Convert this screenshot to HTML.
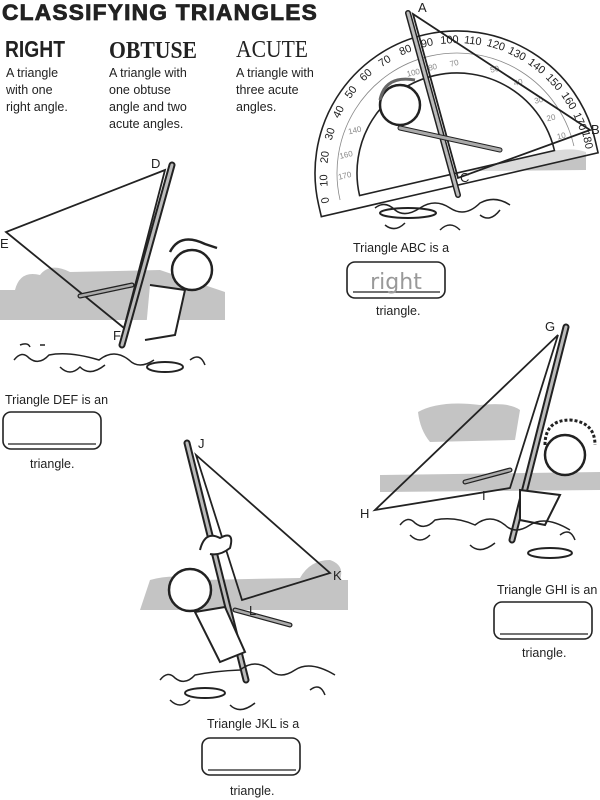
<!DOCTYPE html>
<html><head><meta charset="utf-8"><style>
html,body{margin:0;padding:0;background:#fff;}
svg{display:block}
</style></head><body>
<svg width="600" height="800" viewBox="0 0 600 800" xmlns="http://www.w3.org/2000/svg" font-family="Liberation Sans, sans-serif">
<text x="2" y="20" font-size="22" font-weight="900" letter-spacing="1.2" fill="#222" stroke="#222" stroke-width="0.8" textLength="316" lengthAdjust="spacingAndGlyphs">CLASSIFYING TRIANGLES</text>
<text x="5" y="57" font-size="23" font-weight="bold" fill="#222" textLength="60" lengthAdjust="spacingAndGlyphs">RIGHT</text>
<text x="109" y="58" font-size="24" font-weight="bold" font-family="Liberation Serif, serif" fill="#222" textLength="88" lengthAdjust="spacingAndGlyphs">OBTUSE</text>
<text x="236" y="57" font-size="24" font-family="Liberation Serif, serif" fill="#222" textLength="72" lengthAdjust="spacingAndGlyphs">ACUTE</text>
<g font-size="12.5" fill="#222">
<text x="6" y="77">A triangle</text><text x="6" y="94">with one</text><text x="6" y="111">right angle.</text>
<text x="109" y="77">A triangle with</text><text x="109" y="94">one obtuse</text><text x="109" y="111">angle and two</text><text x="109" y="128">acute angles.</text>
<text x="236" y="77">A triangle with</text><text x="236" y="94">three acute</text><text x="236" y="111">angles.</text>
</g>

<g fill="#c4c4c4">
<path d="M365 160 Q380 150 400 158 L560 150 Q575 148 586 152 L586 170 L362 172 Z"/>
<path d="M0 290 L15 290 Q20 270 40 275 Q50 262 70 272 L160 270 L225 292 L225 320 L0 320 Z"/>
<path d="M418 412 Q440 400 480 405 Q510 402 520 410 L515 440 L430 442 Q420 430 418 412 Z"/>
<path d="M380 475 L600 472 L600 490 L380 492 Z"/>
<path d="M150 580 Q175 573 200 580 L300 578 Q310 560 330 560 Q345 565 340 580 L348 580 L348 610 L140 610 Z"/>
</g>

<g transform="translate(457,173) rotate(-13)" fill="none" stroke="#222" stroke-width="1.6">
<path d="M-142 0 A142 142 0 0 1 142 0 L142 12 L-142 12 Z" fill="#fff" fill-opacity="0.4"/>
<path d="M-100 0 A100 100 0 0 1 100 0 Z" fill="#fff"/>
<path d="M-120 0 A120 120 0 0 1 120 0" stroke="#888" stroke-width="0.8"/>
<g font-size="11" fill="#222" stroke="none" text-anchor="middle">
<text x="-131" y="-3" transform="rotate(-90 -131 -3)">0</text>
<text x="-128" y="-22" transform="rotate(-80 -128 -22)">10</text>
<text x="-122" y="-44" transform="rotate(-70 -122 -44)">20</text>
<text x="-112" y="-65" transform="rotate(-60 -112 -65)">30</text>
<text x="-99" y="-84" transform="rotate(-50 -99 -84)">40</text>
<text x="-83" y="-100" transform="rotate(-40 -83 -100)">50</text>
<text x="-65" y="-113" transform="rotate(-30 -65 -113)">60</text>
<text x="-44" y="-122" transform="rotate(-20 -44 -122)">70</text>
<text x="-22" y="-128" transform="rotate(-10 -22 -128)">80</text>
<text x="0" y="-130">90</text>
<text x="22" y="-128" transform="rotate(10 22 -128)">100</text>
<text x="44" y="-122" transform="rotate(20 44 -122)">110</text>
<text x="65" y="-113" transform="rotate(30 65 -113)">120</text>
<text x="83" y="-100" transform="rotate(40 83 -100)">130</text>
<text x="99" y="-84" transform="rotate(50 99 -84)">140</text>
<text x="112" y="-65" transform="rotate(60 112 -65)">150</text>
<text x="122" y="-44" transform="rotate(70 122 -44)">160</text>
<text x="128" y="-22" transform="rotate(80 128 -22)">170</text>
<text x="131" y="-3" transform="rotate(90 131 -3)">180</text>
</g>
<g font-size="8" fill="#888" stroke="none" text-anchor="middle">
<text x="-110" y="-20">170</text><text x="-104" y="-40">160</text><text x="-90" y="-62">140</text>
<text x="-20" y="-105">100</text><text x="0" y="-106">80</text><text x="22" y="-105">70</text><text x="60" y="-90">50</text><text x="80" y="-72">40</text><text x="96" y="-50">30</text><text x="104" y="-30">20</text><text x="110" y="-10">10</text>
</g>
</g>

<line x1="408" y1="13" x2="458" y2="195" stroke="#222" stroke-width="6" stroke-linecap="round"/>
<line x1="408" y1="13" x2="458" y2="195" stroke="#bbb" stroke-width="3" stroke-linecap="round"/>
<polygon points="413,14 590,130 458,178" fill="none" stroke="#222" stroke-width="1.8"/>
<circle cx="400" cy="105" r="20" fill="#fff" stroke="#222" stroke-width="2.5"/>
<path d="M380 100 q5 -25 35 -20" fill="none" stroke="#666" stroke-width="3"/>
<line x1="400" y1="128" x2="500" y2="150" stroke="#222" stroke-width="5" stroke-linecap="round"/>
<line x1="400" y1="128" x2="500" y2="150" stroke="#aaa" stroke-width="3" stroke-linecap="round"/>
<ellipse cx="408" cy="213" rx="28" ry="5" fill="#fff" stroke="#222" stroke-width="2"/>
<path d="M375 208 q10 -8 20 2 q10 8 25 -2 q15 -10 30 0 q15 10 30 -5 q15 -8 30 2" fill="none" stroke="#222" stroke-width="1.5"/>
<path d="M385 225 q10 8 20 -2 M440 230 q10 -10 20 0 M480 215 q10 8 20 -5" fill="none" stroke="#222" stroke-width="1.5"/>
<g font-size="13" fill="#222"><text x="418" y="12">A</text><text x="591" y="134">B</text><text x="460" y="182">C</text></g>
<text x="353" y="252" font-size="12.5" fill="#222">Triangle ABC is a</text>
<rect x="347" y="262" width="98" height="36" rx="8" fill="#fff" stroke="#222" stroke-width="1.6"/>
<line x1="353" y1="292" x2="440" y2="292" stroke="#222" stroke-width="1.2"/>
<text x="396" y="289" font-size="22" text-anchor="middle" fill="#999" font-family="DejaVu Sans, sans-serif">right</text>
<text x="376" y="315" font-size="12.5" fill="#222">triangle.</text>

<line x1="172" y1="165" x2="122" y2="345" stroke="#222" stroke-width="7" stroke-linecap="round"/>
<line x1="172" y1="165" x2="122" y2="345" stroke="#bbb" stroke-width="3" stroke-linecap="round"/>
<polygon points="165,170 6,232 124,328" fill="none" stroke="#222" stroke-width="1.8"/>
<circle cx="192" cy="270" r="20" fill="#fff" stroke="#222" stroke-width="2.5"/>
<path d="M170 252 q10 -20 35 -8 l12 4" fill="none" stroke="#222" stroke-width="2.5"/>
<path d="M150 285 l35 5 l-10 45 l-30 5" fill="#fff" stroke="#222" stroke-width="2"/>
<line x1="80" y1="296" x2="132" y2="285" stroke="#222" stroke-width="5" stroke-linecap="round"/>
<line x1="80" y1="296" x2="132" y2="285" stroke="#aaa" stroke-width="2.5" stroke-linecap="round"/>
<ellipse cx="165" cy="367" rx="18" ry="5" fill="#fff" stroke="#222" stroke-width="2"/>
<path d="M14 360 q8 -10 15 -2 q10 8 20 -3 q20 -4 50 5 q15 -12 30 0 q10 10 25 0" fill="none" stroke="#222" stroke-width="1.5"/>
<path d="M20 345 q8 -3 10 2 M40 345 l5 0 M60 367 q10 10 20 0 q10 10 25 -2 M190 360 q10 -8 15 5" fill="none" stroke="#222" stroke-width="1.5"/>
<g font-size="13" fill="#222"><text x="151" y="168">D</text><text x="0" y="248">E</text><text x="113" y="340">F</text></g>
<text x="5" y="404" font-size="12.5" fill="#222">Triangle DEF is an</text>
<rect x="3" y="412" width="98" height="37" rx="8" fill="#fff" stroke="#222" stroke-width="1.6"/>
<line x1="8" y1="444" x2="96" y2="444" stroke="#222" stroke-width="1.2"/>
<text x="30" y="468" font-size="12.5" fill="#222">triangle.</text>

<line x1="566" y1="327" x2="512" y2="540" stroke="#222" stroke-width="7" stroke-linecap="round"/>
<line x1="566" y1="327" x2="512" y2="540" stroke="#bbb" stroke-width="3" stroke-linecap="round"/>
<polygon points="558,335 375,510 510,488" fill="none" stroke="#222" stroke-width="1.8"/>
<circle cx="565" cy="455" r="20" fill="#fff" stroke="#222" stroke-width="2.5"/>
<path d="M545 445 q0 -25 25 -25 q25 2 25 25" fill="none" stroke="#222" stroke-width="3" stroke-dasharray="3 2"/>
<path d="M520 490 l40 5 l-15 30 l-25 -5 z" fill="#fff" stroke="#222" stroke-width="2"/>
<line x1="465" y1="482" x2="510" y2="470" stroke="#222" stroke-width="5" stroke-linecap="round"/>
<line x1="465" y1="482" x2="510" y2="470" stroke="#aaa" stroke-width="2.5" stroke-linecap="round"/>
<ellipse cx="550" cy="553" rx="22" ry="5" fill="#fff" stroke="#222" stroke-width="2"/>
<path d="M400 525 q8 -10 15 -2 q10 8 20 -3 q20 -4 40 5 q15 -12 30 0 q10 10 25 0 q15 -10 40 5" fill="none" stroke="#222" stroke-width="1.5"/>
<path d="M410 535 q10 10 20 0 M470 545 q10 10 25 -2 M560 535 q10 -8 15 5" fill="none" stroke="#222" stroke-width="1.5"/>
<g font-size="13" fill="#222"><text x="545" y="331">G</text><text x="360" y="518">H</text><text x="482" y="500">I</text></g>
<text x="497" y="594" font-size="12.5" fill="#222">Triangle GHI is an</text>
<rect x="494" y="602" width="98" height="37" rx="8" fill="#fff" stroke="#222" stroke-width="1.6"/>
<line x1="500" y1="634" x2="588" y2="634" stroke="#222" stroke-width="1.2"/>
<text x="522" y="657" font-size="12.5" fill="#222">triangle.</text>

<line x1="187" y1="443" x2="246" y2="680" stroke="#222" stroke-width="7" stroke-linecap="round"/>
<line x1="187" y1="443" x2="246" y2="680" stroke="#bbb" stroke-width="3" stroke-linecap="round"/>
<polygon points="196,455 330,573 242,600" fill="none" stroke="#222" stroke-width="1.8"/>
<path d="M200 550 q5 -20 20 -12 q15 -8 10 10 q-10 8 -20 6" fill="#fff" stroke="#222" stroke-width="2"/>
<circle cx="190" cy="590" r="21" fill="#fff" stroke="#222" stroke-width="2.5"/>
<path d="M195 612 l30 -5 l20 45 l-25 10 z" fill="#fff" stroke="#222" stroke-width="2"/>
<line x1="235" y1="610" x2="290" y2="625" stroke="#222" stroke-width="5" stroke-linecap="round"/>
<line x1="235" y1="610" x2="290" y2="625" stroke="#aaa" stroke-width="2.5" stroke-linecap="round"/>
<ellipse cx="205" cy="693" rx="20" ry="5" fill="#fff" stroke="#222" stroke-width="2"/>
<path d="M160 680 q8 -10 15 -2 q10 8 20 -3 q20 -4 45 -5 q15 -12 30 0 q10 10 25 0 q15 -10 40 5" fill="none" stroke="#222" stroke-width="1.5"/>
<path d="M170 700 q10 10 20 0 M230 705 q10 10 25 -2 M310 690 q10 -8 15 5" fill="none" stroke="#222" stroke-width="1.5"/>
<g font-size="13" fill="#222"><text x="198" y="448">J</text><text x="333" y="580">K</text><text x="249" y="615">L</text></g>
<text x="207" y="728" font-size="12.5" fill="#222">Triangle JKL is a</text>
<rect x="202" y="738" width="98" height="37" rx="8" fill="#fff" stroke="#222" stroke-width="1.6"/>
<line x1="208" y1="770" x2="296" y2="770" stroke="#222" stroke-width="1.2"/>
<text x="230" y="795" font-size="12.5" fill="#222">triangle.</text>
</svg>
</body></html>
